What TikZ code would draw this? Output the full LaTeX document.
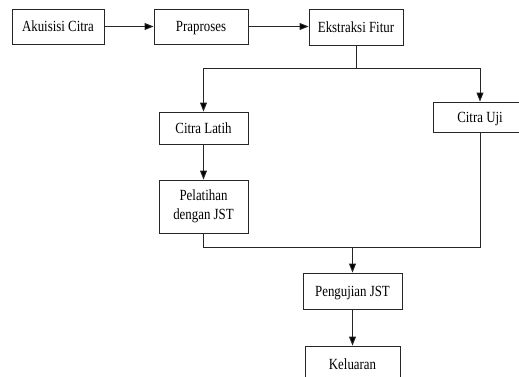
\documentclass[tikz,border=0pt]{standalone}
\usepackage{fontspec}
\setmainfont[FakeStretch=0.83]{Liberation Serif}
\usetikzlibrary{arrows.meta}
\begin{document}
\begin{tikzpicture}[x=1pt,y=-1pt,
  basebox/.style={draw=black!85,line width=0.9pt,fill=white,inner sep=0pt,align=center,
    font=\fontsize{15.5}{19}\selectfont},
  box/.style={basebox,text height=12pt,text depth=2pt},
  conn/.style={draw=black!85,line width=0.9pt},
  arr/.style={conn,-{Triangle[length=9pt,width=7pt,fill=black]}}]
\useasboundingbox (0,0) rectangle (519,376);
\clip (0,0) rectangle (519,376);
\node[box,minimum width=92pt,minimum height=35pt] (aku) at (58,26.5) {Akuisisi Citra};
\node[box,minimum width=94pt,minimum height=35pt] (pra) at (201,26.5) {Praproses};
\node[box,minimum width=94pt,minimum height=36pt] (eks) at (356,27) {Ekstraksi Fitur};
\node[box,minimum width=89pt,minimum height=32pt] (lat) at (203.5,128) {Citra Latih};
\node[basebox,minimum width=89pt,minimum height=53pt] (pel) at (203.5,206.5) {Pelatihan\\dengan JST};
\node[box,minimum width=94pt,minimum height=30pt] (uji) at (480,117) {Citra Uji};
\node[box,minimum width=99pt,minimum height=36pt] (pen) at (352.5,291) {Pengujian JST};
\node[box,minimum width=95pt,minimum height=36pt] (kel) at (352.5,364) {Keluaran};
\coordinate (split) at (356,68);
\coordinate (merge) at (352.5,247);
\draw[arr] (aku) -- (pra);
\draw[arr] (pra.east) -- (pra.east -| eks.west);
\draw[conn] (eks.south) -- (split);
\draw[arr] (split) -| (lat.north);
\draw[arr] (split) -| (uji.north);
\draw[arr] (lat) -- (pel);
\draw[conn] (pel.south) |- (merge);
\draw[conn] (uji.south) |- (merge);
\draw[arr] (merge) -- (pen.north);
\draw[arr] (pen) -- (kel);
\end{tikzpicture}
\end{document}
